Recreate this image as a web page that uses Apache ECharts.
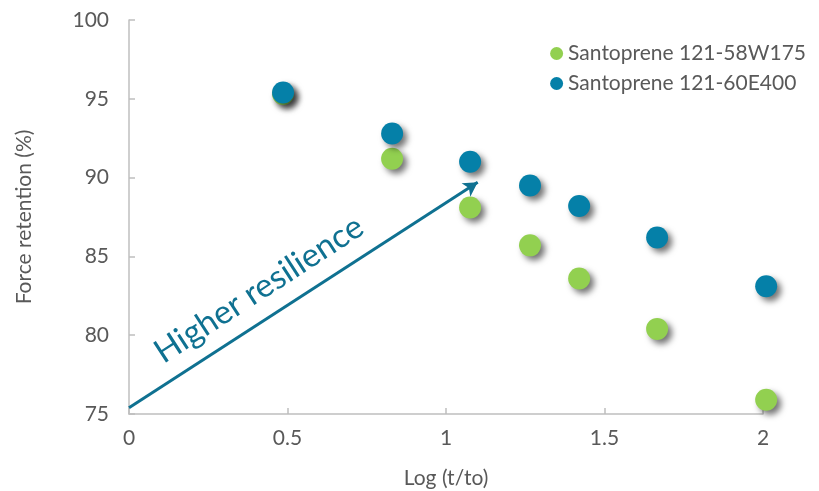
<!DOCTYPE html>
<html><head><meta charset="utf-8">
<script src="https://cdn.jsdelivr.net/npm/echarts@6/dist/echarts.min.js"></script>
<style>html,body{margin:0;padding:0;background:#fff}#c{width:819px;height:491px}</style>
</head><body><div id="c"></div>
<script>
const seriesNames = ['Santoprene 121-58W175', 'Santoprene 121-60E400'];
const xGreen = [0.486, 0.83, 1.076, 1.265, 1.42, 1.666, 2.01];
const yGreen = [95.3, 91.2, 88.1, 85.7, 83.6, 80.4, 75.9];
const xBlue = [0.486, 0.83, 1.076, 1.265, 1.42, 1.666, 2.01];
const yBlue = [95.4, 92.8, 91.0, 89.5, 88.2, 86.2, 83.1];
const arrowStart = [0, 75.4];
const arrowEnd = [1.1, 89.7];
const arrowText = 'Higher resilience';
const xName = 'Log (t/to)';
const yName = 'Force retention (%)';

const font = 'Lato, "Open Sans", sans-serif';
const chart = echarts.init(document.getElementById('c'));
const shadow = {opacity: 1, shadowBlur: 6, shadowOffsetX: 4, shadowOffsetY: 4, shadowColor: 'rgba(0,0,0,0.55)'};
chart.setOption({
  animation: false,
  grid: {left: 129, right: 56, top: 20, bottom: 77, outerBoundsMode: 'none', containLabel: false},
  legend: {
    right: 8, top: 38, orient: 'vertical', itemGap: 9,
    icon: 'circle', itemWidth: 13, itemHeight: 13,
    textStyle: {color: '#595959', fontSize: 21, fontFamily: font},
    data: seriesNames
  },
  xAxis: {
    type: 'value', min: 0, max: 2, interval: 0.5,
    name: xName, nameLocation: 'middle', nameGap: 54,
    nameTextStyle: {color: '#595959', fontSize: 21, fontFamily: font},
    axisLine: {lineStyle: {color: '#bfbfbf', width: 1.5}},
    axisTick: {inside: true, length: 6, lineStyle: {color: '#bfbfbf', width: 1.5}},
    splitLine: {show: false},
    axisLabel: {color: '#595959', fontSize: 21, fontFamily: font, margin: 14}
  },
  yAxis: {
    type: 'value', min: 75, max: 100, interval: 5,
    name: yName, nameLocation: 'middle', nameGap: 94,
    nameTextStyle: {color: '#595959', fontSize: 21, fontFamily: font},
    axisLine: {show: true, lineStyle: {color: '#bfbfbf', width: 1.5}},
    axisTick: {show: true, inside: true, length: 6, lineStyle: {color: '#bfbfbf', width: 1.5}},
    splitLine: {show: false},
    axisLabel: {color: '#595959', fontSize: 21, fontFamily: font, margin: 20}
  },
  series: [
    {
      name: seriesNames[0], type: 'scatter', symbolSize: 22, clip: false,
      itemStyle: Object.assign({color: '#92d050'}, shadow),
      data: xGreen.map((x, i) => [x, yGreen[i]]),
      z: 3
    },
    {
      name: seriesNames[1], type: 'scatter', symbolSize: 22, clip: false,
      itemStyle: Object.assign({color: '#0580a8'}, shadow),
      data: xBlue.map((x, i) => [x, yBlue[i]]),
      z: 4,
      markLine: {
        silent: true, symbol: ['none', 'arrow'], symbolSize: [12, 14],
        label: {show: false},
        lineStyle: {color: '#0f7191', width: 3, type: 'solid'},
        data: [[{coord: arrowStart}, {coord: arrowEnd}]]
      }
    }
  ]
});
const p = chart.convertToPixel({gridIndex: 0}, [0.41, 82.9]);
chart.setOption({
  graphic: [{
    type: 'text', x: p[0], y: p[1], rotation: 33 * Math.PI / 180,
    style: {text: arrowText, fill: '#0f7191', fontSize: 33, fontFamily: font, align: 'center', verticalAlign: 'middle'}
  }]
});
</script></body></html>
